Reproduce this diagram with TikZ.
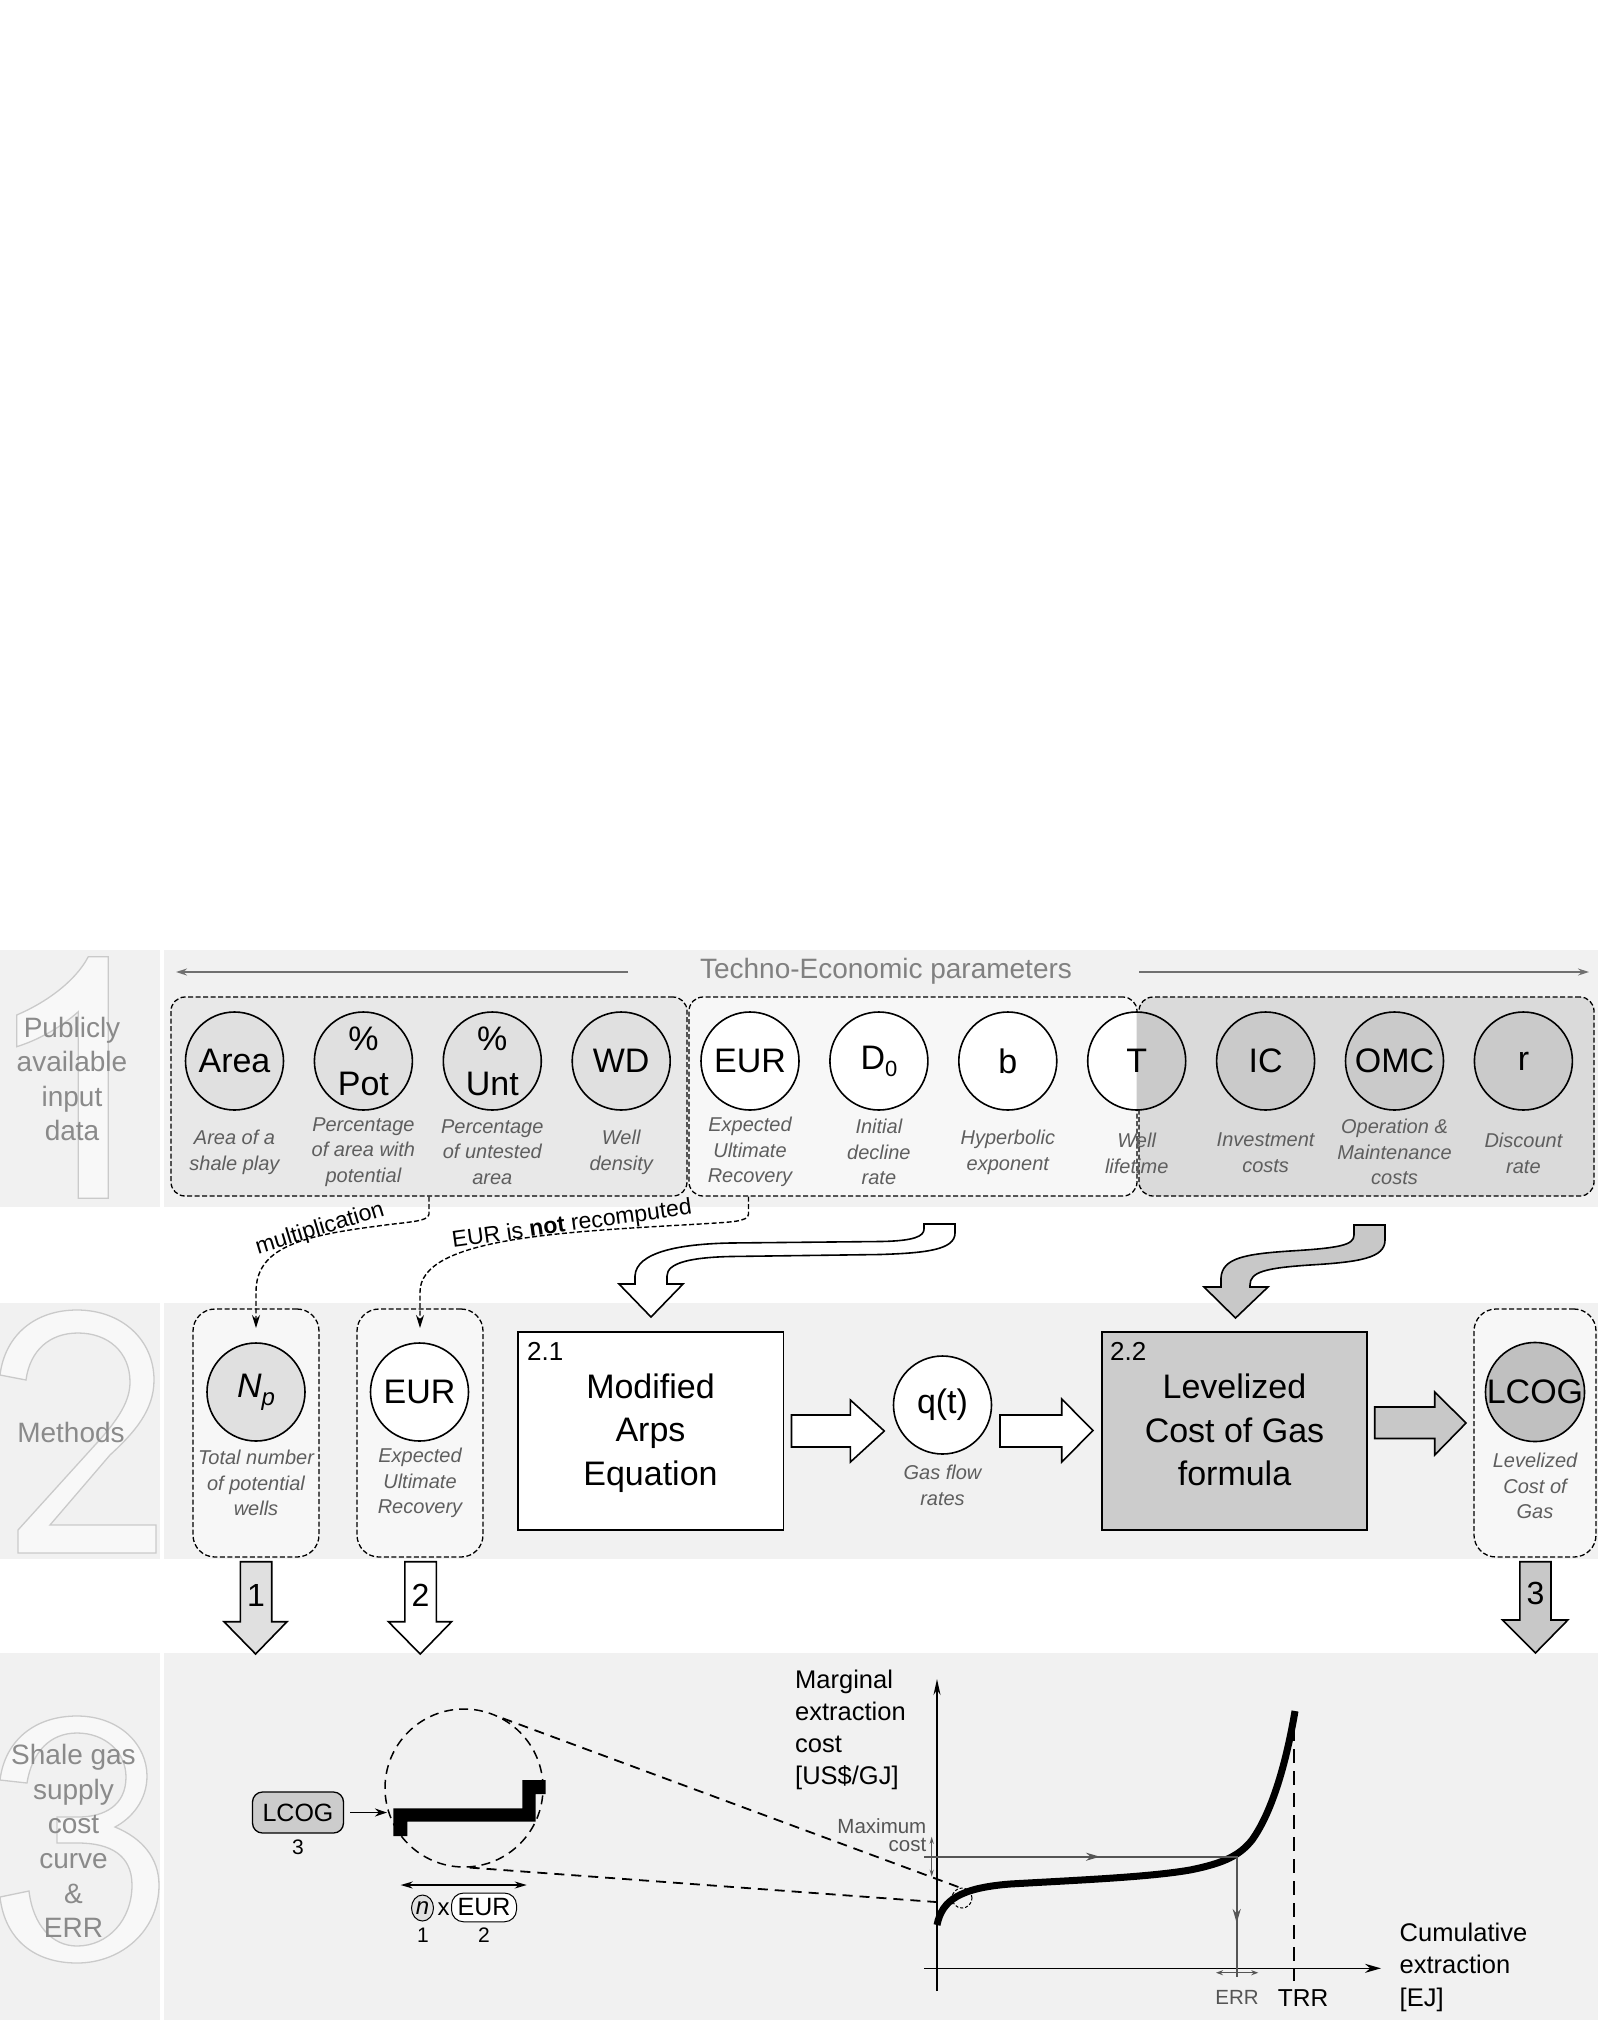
\documentclass[tikz,border=0pt]{standalone}
\usepackage{fontspec}
\setmainfont{Liberation Sans}
\usetikzlibrary{arrows.meta,shapes.geometric}
\newcommand{\myfs}[2]{\fontsize{#1}{#2}\selectfont}
\definecolor{bandc}{HTML}{F1F1F1}
\definecolor{digitfill}{HTML}{F8F8F8}
\definecolor{digitline}{HTML}{CACACA}
\definecolor{sidec}{HTML}{8A8A8A}
\definecolor{tec}{HTML}{808080}
\definecolor{tearr}{HTML}{707070}
\definecolor{gAc}{HTML}{E8E8E8}
\definecolor{gAcirc}{HTML}{E0E0E0}
\definecolor{gBc}{HTML}{F7F7F7}
\definecolor{gCc}{HTML}{DADADA}
\definecolor{gCcirc}{HTML}{CACACA}
\definecolor{descc}{HTML}{5E5E5E}
\definecolor{grptwo}{HTML}{F7F7F7}
\definecolor{npc}{HTML}{E0E0E0}
\definecolor{lcogc}{HTML}{C0C0C0}
\definecolor{boxtt}{HTML}{CCCCCC}
\definecolor{garr}{HTML}{C8C8C8}
\definecolor{gl}{HTML}{555555}
\begin{document}
\begin{tikzpicture}[x=1pt,y=-1pt,
  grp/.style={draw=black,line width=1.3pt,dash pattern=on 5pt off 2.5pt,rounded corners=14pt,inner sep=0pt},
  grpb/.style={grp,rounded corners=22pt,fill=grptwo,minimum width=126pt,minimum height=248pt},
  pcirc/.style={circle,draw=black,line width=1.6pt,minimum size=98pt,inner sep=0pt,font={\myfs{34}{40}}},
  desc/.style={font={\myfs{20}{25.7}\itshape},text=descc,align=center,inner sep=0pt},
  side/.style={font={\myfs{28}{34.6}},text=sidec,align=center,inner sep=0pt},
  digit/.style={fill=digitfill,draw=digitline,line width=1.3pt},
  blk/.style={draw=black,line width=1.6pt},
  dconn/.style={draw=black,line width=1.4pt,dash pattern=on 5pt off 2.5pt,-{Stealth[length=13pt,width=8pt]}},
  numtxt/.style={font={\myfs{32}{36}},inner sep=0pt},
  ]
\useasboundingbox (0,0) rectangle (1598,2020);
\fill[white] (0,0) rectangle (1598,2020);

% ---------- bands
\fill[bandc] (0,950) rectangle (160,1207);
\fill[bandc] (164,950) rectangle (1598,1207);
\fill[bandc] (0,1303) rectangle (160,1559);
\fill[bandc] (164,1303) rectangle (1598,1559);
\fill[bandc] (0,1653) rectangle (160,2020);
\fill[bandc] (164,1653) rectangle (1598,2020);

% ---------- big outlined digits
\path[digit] (108.3,956.7) -- (108.3,1198.3) -- (78.3,1198.3) -- (78.3,1011.7)
  .. controls (60,1028) and (38,1040) .. (16.7,1046.7) -- (16.7,1015)
  .. controls (45,1003) and (75,982) .. (88.3,956.7) -- cycle;
\path[digit] (0,1375) .. controls (5,1335) and (35,1310) .. (77,1310)
  .. controls (122,1310) and (154,1340) .. (154,1380)
  .. controls (154,1410) and (135,1432) .. (110,1455)
  -- (50,1525) -- (156,1525) -- (156,1553) -- (18,1553) -- (18,1530)
  -- (95,1445) .. controls (120,1418) and (130,1400) .. (130,1382)
  .. controls (130,1352) and (108,1333) .. (78,1333)
  .. controls (50,1333) and (30,1350) .. (26,1380) -- cycle;
\path[digit] (0,1780) .. controls (5,1740) and (35,1716) .. (77,1716)
  .. controls (120,1716) and (147,1745) .. (147,1776)
  .. controls (147,1800) and (132,1818) .. (115,1827)
  .. controls (142,1838) and (159,1858) .. (159,1885)
  .. controls (159,1930) and (122,1963) .. (77,1963)
  .. controls (35,1963) and (5,1940) .. (0,1897)
  -- (29,1891) .. controls (33,1925) and (52,1946) .. (77,1946)
  .. controls (108,1946) and (132,1920) .. (132,1885)
  .. controls (132,1855) and (110,1843) .. (78,1843)
  -- (57,1843) -- (57,1817) -- (78,1817)
  .. controls (105,1817) and (126,1805) .. (126,1777)
  .. controls (126,1752) and (105,1733) .. (77,1733)
  .. controls (50,1733) and (32,1752) .. (27,1783) -- cycle;

\node[side] (s1) at (72,1079) {Publicly\\available\\input\\data};
\node[side] (s2) at (71,1432) {Methods};
\node[side] (s3) at (73.5,1841) {Shale gas\\supply\\cost\\curve\\\&\\ERR};

% ---------- row 1
\node[font={\myfs{28}{34}},text=tec,inner sep=0pt] (tep) at (886,971) {Techno-Economic parameters};
\coordinate (tlA) at (628,972); \coordinate (tlB) at (176,972);
\coordinate (trA) at (1139,972); \coordinate (trB) at (1589,972);
\draw[tearr,line width=1.5pt,-{Stealth[length=11pt,width=7pt]}] (tlA) -- (tlB);
\draw[tearr,line width=1.5pt,-{Stealth[length=11pt,width=7pt]}] (trA) -- (trB);

\node[grp,fill=gAc,minimum width=516pt,minimum height=199pt] (gA) at (429,1096.5) {};
\node[grp,fill=gBc,minimum width=448pt,minimum height=199pt] (gB) at (913,1096.5) {};
\node[grp,fill=gCc,minimum width=455pt,minimum height=199pt] (gC) at (1366.5,1096.5) {};

\node[pcirc,fill=gAcirc] (pArea) at (234.5,1061) {Area};
\node[pcirc,fill=gAcirc,align=center,font={\myfs{34}{45}}] (pPot) at (363.4,1061) {\%\\Pot};
\node[pcirc,fill=gAcirc,align=center,font={\myfs{34}{45}}] (pUnt) at (492.3,1061) {\%\\Unt};
\node[pcirc,fill=gAcirc] (pWD) at (621.2,1061) {WD};
\node[pcirc,fill=white] (pEUR) at (750,1061) {EUR};
\node[pcirc,fill=white] (pD) at (878.9,1061) {D\raisebox{-7pt}{\myfs{22}{22}0}};
\node[pcirc,fill=white] (pb) at (1007.8,1061) {b};
\fill[white] (1136.7,1061) circle[radius=49pt];
\begin{scope}
\clip (1136.7,1000) rectangle (1200,1120);
\fill[gCcirc] (1136.7,1061) circle[radius=49pt];
\end{scope}
\node[pcirc] (pT) at (1136.7,1061) {T};
\node[pcirc,fill=gCcirc] (pIC) at (1265.6,1061) {IC};
\node[pcirc,fill=gCcirc] (pOMC) at (1394.5,1061) {OMC};
\node[pcirc,fill=gCcirc] (pr) at (1523.4,1061) {r};

\node[desc] (dArea) at (234.5,1152) {Area of a\\shale play};
\node[desc] (dPot) at (363.4,1152) {Percentage\\of area with\\potential};
\node[desc] (dUnt) at (492.3,1152) {Percentage\\of untested\\area};
\node[desc] (dWD) at (621.2,1152) {Well\\density};
\node[desc] (dEUR) at (750,1152) {Expected\\Ultimate\\Recovery};
\node[desc] (dD) at (878.9,1152) {Initial\\decline\\rate};
\node[desc] (db) at (1007.8,1152) {Hyperbolic\\exponent};
\node[desc] (dT) at (1136.7,1153) {Well\\lifetime};
\node[desc] (dIC) at (1265.6,1153) {Investment\\costs};
\node[desc] (dOMC) at (1394.5,1152) {Operation \&\\Maintenance\\costs};
\node[desc] (dr) at (1523.4,1153) {Discount\\rate};

% ---------- curved block arrows
\path[blk,fill=white] (924,1224) -- (955,1224) -- (955,1233) .. controls (955,1250) and (925,1253) .. (880,1254.5)
  -- (730,1256.5) .. controls (690,1257.5) and (667,1263) .. (667,1276) -- (667,1284) -- (683,1284)
  -- (651,1317) -- (619,1284) -- (635,1284) -- (635,1276) .. controls (636,1252) and (680,1244) .. (730,1243)
  -- (880,1241.5) .. controls (915,1241) and (924,1236) .. (924,1229) -- cycle;
\path[blk,fill=garr] (1354,1225) -- (1385,1225) -- (1385,1240) .. controls (1385,1258) and (1360,1262) .. (1310,1265)
  .. controls (1265,1268) and (1250,1272) .. (1250,1285) -- (1250,1287) -- (1268,1287) -- (1235.5,1318)
  -- (1204,1287) -- (1221,1287) -- (1221,1278) .. controls (1222,1258) and (1245,1254) .. (1290,1251)
  .. controls (1340,1248) and (1354,1245) .. (1354,1235) -- cycle;

% ---------- row 2
\node[grpb] (gNp) at (256,1433) {};
\node[grpb] (gEUR) at (420,1433) {};
\node[grpb,minimum width=122pt] (gLC) at (1535,1433) {};

% ---------- dashed connectors between rows 1 and 2
\coordinate (gBo) at (748.5,1196.5);
\coordinate (t1) at (256,1328);
\coordinate (t2) at (420,1328);
\draw[dconn] (gA.south) -- (429,1214) .. controls (429,1222) and (405,1222) .. (378,1226)
  .. controls (300,1236) and (256,1248) .. (256,1292) -- (t1);
\draw[dconn] (gBo) -- (748.5,1214) .. controls (748.5,1222) and (730,1222) .. (700,1224)
  .. controls (560,1232) and (420,1238) .. (420,1292) -- (t2);
\node[font={\myfs{23}{26}},rotate=17,inner sep=0pt] (lmul) at (320,1229) {multiplication};
\node[font={\myfs{23}{26}},rotate=8,inner sep=0pt] (lnot) at (572,1225) {EUR is \textbf{not} recomputed};

\node[pcirc,fill=npc] (pNp) at (256,1392) {\itshape N\raisebox{-8pt}{\myfs{24}{24}\itshape p}};
\node[pcirc,fill=white] (pEUR2) at (419.5,1392) {EUR};
\node[pcirc,fill=lcogc] (pLC) at (1535,1392) {LCOG};
\node[pcirc,fill=white] (pq) at (942.5,1405) {q(t)};

\node[desc] (dNp) at (256,1483) {Total number\\of potential\\wells};
\node[desc] (dEUR2) at (420,1483) {Expected\\Ultimate\\Recovery};
\node[desc] (dq) at (942.5,1485) {Gas flow\\rates};
\node[desc] (dLC) at (1535,1486) {Levelized\\Cost of\\Gas};

\node[blk,fill=white,minimum width=265.5pt,minimum height=198pt,inner sep=0pt] (b21) at (650.75,1431) {};
\node[font={\myfs{26}{30}},anchor=base west,inner sep=0pt] (n21) at (527,1360) {2.1};
\node[font={\myfs{34}{43.3}},align=center,inner sep=0pt] (t21) at (650.5,1433) {Modified\\Arps\\Equation};
\node[blk,fill=boxtt,minimum width=265pt,minimum height=198pt,inner sep=0pt] (b22) at (1234.5,1431) {};
\node[font={\myfs{26}{30}},anchor=base west,inner sep=0pt] (n22) at (1110,1360) {2.2};
\node[font={\myfs{34}{43.3}},align=center,inner sep=0pt] (t22) at (1234.5,1430) {Levelized\\Cost of Gas\\formula};

\path[blk,fill=white] (791.5,1415) -- (850.4,1415) -- (850.4,1400) -- (884.3,1431) -- (850.4,1462) -- (850.4,1447) -- (791.5,1447) -- cycle;
\path[blk,fill=white] (1000,1415) -- (1061.7,1415) -- (1061.7,1399) -- (1093,1430.5) -- (1061.7,1462) -- (1061.7,1447) -- (1000,1447) -- cycle;
\path[blk,fill=garr] (1374.7,1407) -- (1434.7,1407) -- (1434.7,1392) -- (1466,1423) -- (1434.7,1455) -- (1434.7,1438.5) -- (1374.7,1438.5) -- cycle;

% ---------- down arrows 1 2 3
\path[blk,fill=npc] (240.3,1561.7) -- (271.7,1561.7) -- (271.7,1621.7) -- (287,1621.7) -- (255.6,1654) -- (224,1621.7) -- (240.3,1621.7) -- cycle;
\node[numtxt] (a1) at (256,1595) {1};
\path[blk,fill=white] (404.9,1561.7) -- (436.3,1561.7) -- (436.3,1621.7) -- (451.6,1621.7) -- (420.2,1654) -- (388.4,1621.7) -- (404.9,1621.7) -- cycle;
\node[numtxt] (a2) at (420.5,1595) {2};
\path[blk,fill=garr] (1519.8,1561.7) -- (1551,1561.7) -- (1551,1620) -- (1567.8,1620) -- (1535.4,1653) -- (1502.5,1620) -- (1519.8,1620) -- cycle;
\node[numtxt] (a3) at (1535.4,1593) {3};

% ---------- row 3 left part
\node[draw=black,line width=1.3pt,fill=boxtt,rounded corners=10pt,minimum width=91pt,minimum height=41pt,inner sep=0pt,font={\myfs{25}{28}}] (lc3) at (298,1812.5) {LCOG};
\node[font={\myfs{21}{24}},inner sep=0pt] (lc3n) at (298,1847) {3};
\node[circle,draw=black,line width=1.5pt,dash pattern=on 9pt off 6pt,minimum size=158pt,inner sep=0pt] (mag) at (464,1788) {};
\coordinate (magin) at (387,1812.5);
\draw[line width=1.5pt,-{Stealth[length=12pt,width=8pt]},shorten <=6pt] (lc3.east) -- (magin);
\fill[black] (393.3,1836) -- (393.3,1808.3) -- (522.3,1808.3) -- (522.3,1780) -- (545.7,1780) -- (545.7,1794) -- (535.7,1794) -- (535.7,1821.7) -- (407.3,1821.7) -- (407.3,1836) -- cycle;
\coordinate (da1) at (400.7,1885); \coordinate (da2) at (526.7,1885);
\draw[line width=1.4pt,{Stealth[length=12pt,width=7pt]}-{Stealth[length=12pt,width=7pt]}] (da1) -- (da2);
\node[ellipse,draw=black,line width=1pt,fill=npc,minimum width=22pt,minimum height=26pt,inner sep=0pt,font={\myfs{24}{26}\itshape}] (nn) at (422.5,1908) {n};
\node[font={\myfs{24}{26}},inner sep=0pt] (nx) at (443.5,1909) {x};
\node[draw=black,line width=1pt,fill=white,rounded corners=12pt,minimum width=65pt,minimum height=28.7pt,inner sep=0pt,font={\myfs{25}{26}}] (neur) at (484,1907.4) {EUR};
\node[font={\myfs{21}{24}},inner sep=0pt] (n1) at (423,1935) {1};
\node[font={\myfs{21}{24}},inner sep=0pt] (n2) at (484,1935) {2};

% ---------- graph
\node[circle,draw=black,line width=1pt,dash pattern=on 3pt off 2pt,minimum size=20pt,inner sep=0pt] (zc) at (962,1898) {};
\draw[line width=1.8pt,dash pattern=on 10pt off 7pt] (mag.61) -- (zc.100);
\draw[line width=1.8pt,dash pattern=on 10pt off 7pt] (mag.-86) -- (zc.-150);

\coordinate (yb) at (937,1991); \coordinate (yt) at (937,1679);
\draw[line width=1.6pt,-{Stealth[length=16pt,width=7pt]}] (yb) -- (yt);
\coordinate (xl) at (924,1968.3); \coordinate (xr) at (1381,1968.3);
\draw[line width=1.6pt,-{Stealth[length=16pt,width=9pt]}] (xl) -- (xr);

\draw[line width=7pt] (937,1925) .. controls (942,1900) and (960,1888) .. (1010,1884)
  .. controls (1080,1880) and (1150,1877) .. (1190,1870)
  .. controls (1225,1863) and (1240,1855) .. (1252,1840)
  .. controls (1270,1815) and (1285,1770) .. (1295,1711);

\coordinate (trrT) at (1294,1727); \coordinate (trrB) at (1294,1981);
\draw[line width=1.5pt,dash pattern=on 14pt off 8pt] (trrT) -- (trrB);

\coordinate (mc) at (924,1856.7); \coordinate (ec) at (1236.7,1856.7); \coordinate (eb) at (1236.7,1977);
\coordinate (mcm) at (1100,1856.7); \coordinate (ecm) at (1236.7,1923);
\draw[gl,line width=2pt] (mc) -- (ec) -- (eb);
\draw[gl,line width=2pt,-{Stealth[length=14pt,width=8pt]}] (mc) -- (mcm);
\draw[gl,line width=2pt,-{Stealth[length=14pt,width=8pt]}] (ec) -- (ecm);

\coordinate (mx1) at (931.7,1836.7); \coordinate (mx2) at (931.7,1876.7);
\draw[gl,line width=1.2pt,{Stealth[length=7pt,width=4pt]}-{Stealth[length=7pt,width=4pt]}] (mx1) -- (mx2);
\node[font={\myfs{20.5}{18.4}},text=gl,align=right,anchor=east,inner sep=0pt] (mxc) at (926.5,1835) {Maximum\\cost};

\coordinate (er1) at (1216,1972.7); \coordinate (er2) at (1258.3,1972.7);
\draw[gl,line width=1.2pt,{Stealth[length=7pt,width=5pt]}-{Stealth[length=7pt,width=5pt]}] (er1) -- (er2);
\node[font={\myfs{20.5}{22}},text=gl,inner sep=0pt] (errl) at (1237,1997) {ERR};
\node[font={\myfs{24.5}{26}},inner sep=0pt] (trrl) at (1303,1998) {TRR};

\node[font={\myfs{25.5}{32.2}},align=left,anchor=west,inner sep=0pt] (ylab) at (795,1730) {Marginal\\extraction\\cost\\{[}US\$/GJ{]}};
\node[font={\myfs{25.5}{32.5}},align=left,anchor=west,inner sep=0pt] (xlab) at (1399.5,1967) {Cumulative\\extraction\\{[}EJ{]}};
\end{tikzpicture}
\end{document}
